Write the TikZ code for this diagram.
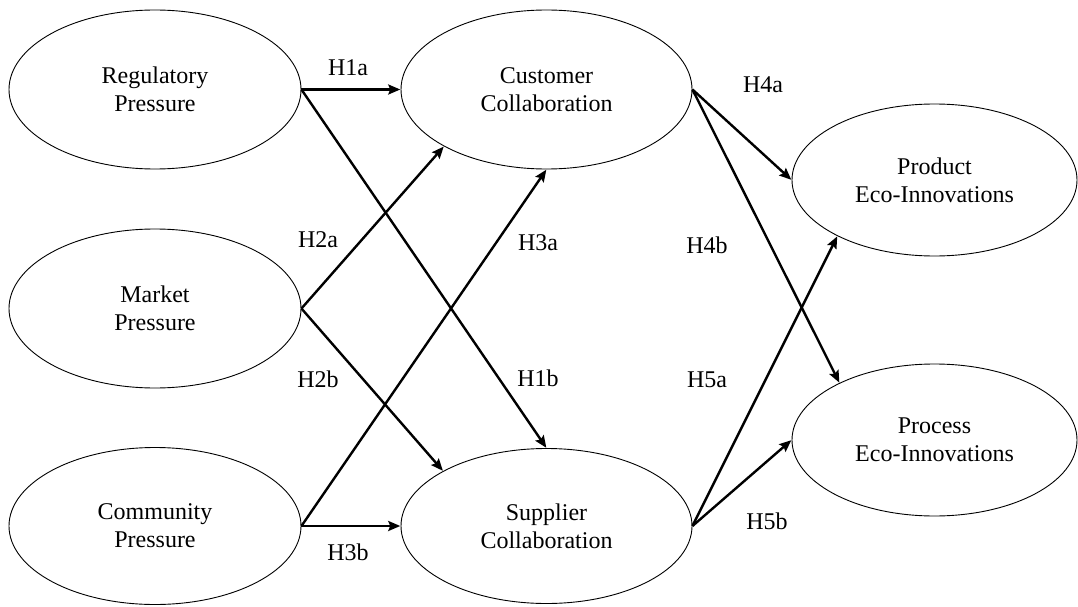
\documentclass[tikz,border=0pt]{standalone}
\usepackage{fontspec}
\setmainfont{Liberation Serif}
\usetikzlibrary{arrows.meta,shapes.geometric}
\begin{document}
\begin{tikzpicture}[x=1pt,y=-1pt,
  construct/.style={draw, ellipse, line width=0.9pt, inner sep=0pt, align=center,
    font=\fontsize{24}{28}\selectfont},
  path/.style={line width=2.4pt, -{Stealth[length=12pt,width=10pt,inset=2pt]}, shorten >=0.3pt},
  hlabel/.style={font=\fontsize{24}{28}\selectfont, inner sep=0pt}]
\useasboundingbox (0,0) rectangle (1078,607);
\node[construct, minimum width=292pt, minimum height=159pt] (reg) at (155,89.5) {Regulatory\\Pressure};
\node[construct, minimum width=292pt, minimum height=159pt] (mkt) at (155,308.5) {Market\\Pressure};
\node[construct, minimum width=292pt, minimum height=157pt] (com) at (155,526) {Community\\Pressure};
\node[construct, minimum width=291pt, minimum height=159pt] (cus) at (546.5,89.5) {Customer\\Collaboration};
\node[construct, minimum width=291pt, minimum height=155pt] (sup) at (546.5,526) {Supplier\\Collaboration};
\node[construct, minimum width=285pt, minimum height=152pt] (prod) at (934.5,180) {Product\\Eco-Innovations};
\node[construct, minimum width=285pt, minimum height=152pt] (proc) at (934.5,440) {Process\\Eco-Innovations};

\draw[path] (reg.east) -- (cus.west);
\draw[path] (reg.east) -- (sup.north);
\draw[path] (mkt.east) -- (cus.209);
\draw[path] (mkt.east) -- (sup.152);
\draw[path] (com.east) -- (cus.south);
\draw[path] (com.east) -- (sup.west);
\draw[path] (cus.east) -- (prod.west);
\draw[path] (cus.east) -- (proc.149);
\draw[path] (sup.east) -- (prod.210);
\draw[path] (sup.east) -- (proc.west);

\node[hlabel] (h1a) at (348,68) {H1a};
\node[hlabel] (h1b) at (538,378) {H1b};
\node[hlabel] (h2a) at (318,240) {H2a};
\node[hlabel] (h2b) at (318,379) {H2b};
\node[hlabel] (h3a) at (538,243) {H3a};
\node[hlabel] (h3b) at (348,552) {H3b};
\node[hlabel] (h4a) at (763,85) {H4a};
\node[hlabel] (h4b) at (707,245) {H4b};
\node[hlabel] (h5a) at (707,380) {H5a};
\node[hlabel] (h5b) at (767,521) {H5b};
\end{tikzpicture}
\end{document}
